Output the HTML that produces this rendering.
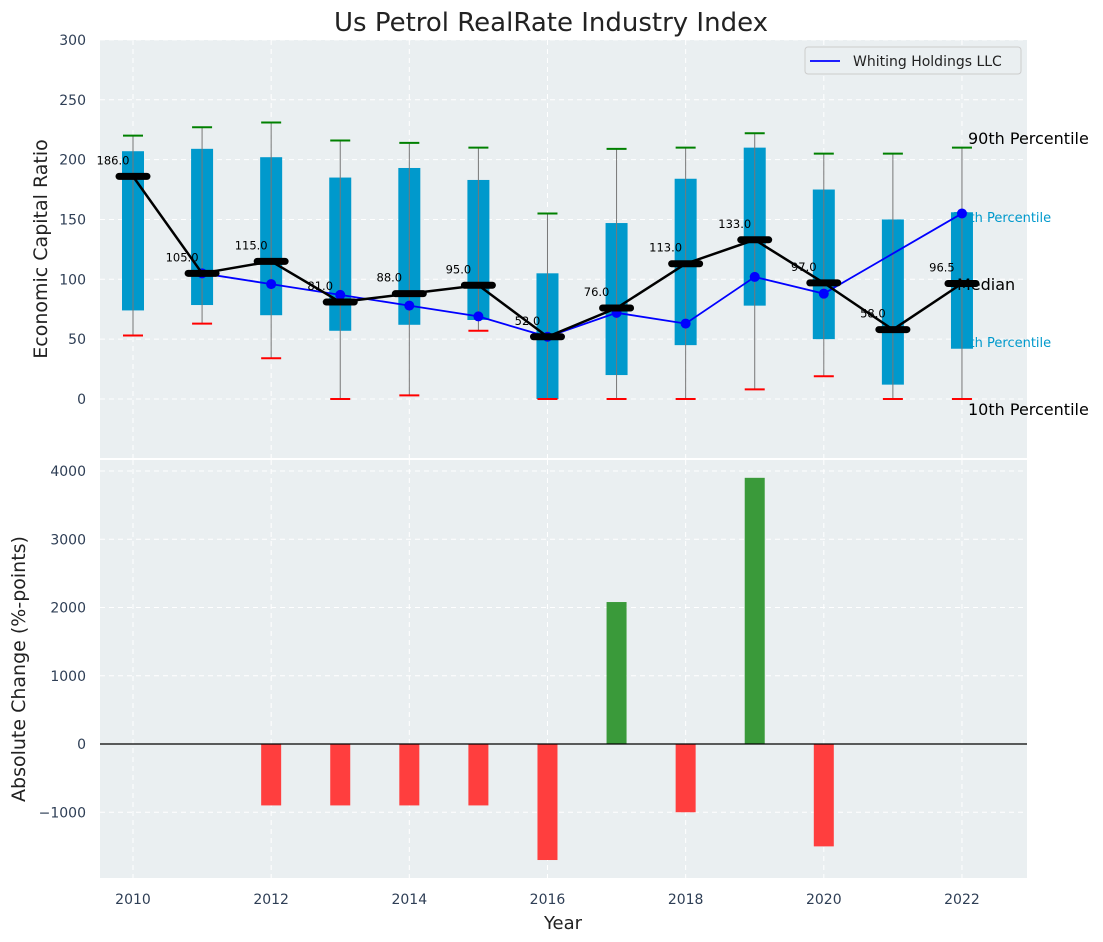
<!DOCTYPE html>
<html><head><meta charset="utf-8"><style>body{margin:0;background:#fff}svg{display:block;font-family:"DejaVu Sans","Liberation Sans",sans-serif}</style></head>
<body>
<svg id="c" width="1103" height="942"></svg>
<script>
const years=[2010,2011,2012,2013,2014,2015,2016,2017,2018,2019,2020,2021,2022];
const q75=[207,209,202,185,193,183,105,147,184,210,175,150,156];
const q25=[74,78.5,70,57,62,66,0,20,45,78,50,12,42];
const p90=[220,227,231,216,214,210,155,209,210,222,205,205,210];
const p10=[53,63,34,0,3,57,0,0,0,8,19,0,0];
const medians=[186,105,115,81,88,95,52,76,113,133,97,58,96.5];
const companyVals=[null,105,96,87,78,69,52,72,63,102,88,null,155];
const changes=[0,0,-900,-900,-900,-900,-1700,2080,-1000,3900,-1500,0,0];
const topTicks=[0,50,100,150,200,250,300];
const botTicks=[-1000,0,1000,2000,3000,4000];
const xTicks=[2010,2012,2014,2016,2018,2020,2022];

const NS='http://www.w3.org/2000/svg',svg=document.getElementById('c');
function mk(t,a,p){const e=document.createElementNS(NS,t);for(const k in a)e.setAttribute(k,a[k]);(p||svg).appendChild(e);return e;}
const X=y=>133+(y-2010)*69.08;
const Y1=v=>399-v*1.197;
const Y2=v=>744-v*0.06825;
const L=100,R=1027;
let a=mk('rect',{x:L,y:40,width:R-L,height:418,fill:'#eaeff1'});

a=mk('rect',{x:L,y:460,width:R-L,height:418,fill:'#eaeff1'});

const tc='#2e3e55';
topTicks.forEach(v=>{mk('line',{x1:L,x2:R,y1:Y1(v),y2:Y1(v),stroke:'#fff','stroke-dasharray':'5,4'});
 const t=mk('text',{x:86,y:Y1(v)+5,'text-anchor':'end','font-size':14,fill:tc});t.textContent=v;
 });
botTicks.forEach(v=>{mk('line',{x1:L,x2:R,y1:Y2(v),y2:Y2(v),stroke:'#fff','stroke-dasharray':'5,4'});
 const t=mk('text',{x:86,y:Y2(v)+5,'text-anchor':'end','font-size':14,fill:tc});t.textContent=v<0?'−'+(-v):v;
 });
xTicks.forEach(y=>{mk('line',{x1:X(y),x2:X(y),y1:40,y2:458,stroke:'#fff','stroke-dasharray':'5,4'});
 mk('line',{x1:X(y),x2:X(y),y1:460,y2:878,stroke:'#fff','stroke-dasharray':'5,4'});
 const t=mk('text',{x:X(y),y:904,'text-anchor':'middle','font-size':14,fill:tc});t.textContent=y;
 });
let t=mk('text',{x:953,y:222,'font-size':13,fill:'#0099cc'});t.textContent='75th Percentile';

t=mk('text',{x:953,y:347,'font-size':13,fill:'#0099cc'});t.textContent='25th Percentile';

years.forEach((y,i)=>{const x=X(y);
 let b=mk('rect',{x:x-11,y:Y1(q75[i]),width:22,height:Y1(q25[i])-Y1(q75[i]),fill:'#0099cc'});
 
 let w=mk('line',{x1:x,x2:x,y1:Y1(p90[i]),y2:Y1(p10[i]),stroke:'#777','stroke-width':1});
 
 let g=mk('line',{x1:x-10,x2:x+10,y1:Y1(p90[i]),y2:Y1(p90[i]),stroke:'green','stroke-width':2});
 
 let r=mk('line',{x1:x-10,x2:x+10,y1:Y1(p10[i]),y2:Y1(p10[i]),stroke:'red','stroke-width':2});
 
});
let cur=[];
years.forEach((y,i)=>{if(companyVals[i]!=null)cur.push(X(y)+','+Y1(companyVals[i]));});
let pl=mk('polyline',{points:cur.join(' '),fill:'none',stroke:'blue','stroke-width':1.8});

years.forEach((y,i)=>{if(companyVals[i]!=null){let c=mk('circle',{cx:X(y),cy:Y1(companyVals[i]),r:5,fill:'blue'});
 }});
let mp=mk('polyline',{points:years.map((y,i)=>X(y)+','+Y1(medians[i])).join(' '),fill:'none',stroke:'#000','stroke-width':2.5});

years.forEach((y,i)=>{const x=X(y),yy=Y1(medians[i]);
 let m=mk('line',{x1:x-14,x2:x+14,y1:yy,y2:yy,stroke:'#000','stroke-width':7,'stroke-linecap':'round'});
 
 let l=mk('text',{x:x-20,y:yy-12,'text-anchor':'middle','font-size':11.5,fill:'#000'});l.textContent=medians[i].toFixed(1);
 });
[['90th Percentile',968,144,'p90-label'],['Median',957,290,'median-label-right'],['10th Percentile',968,415,'p10-label']].forEach(d=>{
 let e=mk('text',{x:d[1],y:d[2],'font-size':16,fill:'#000'});e.textContent=d[0];
 });
years.forEach((y,i)=>{const v=changes[i];if(!v)return;
 let b=mk('rect',{x:X(y)-10,y:Math.min(Y2(v),Y2(0)),width:20,height:Math.abs(Y2(v)-Y2(0)),fill:v>0?'#3a9a3a':'#ff3e3e'});
 });
mk('line',{x1:L,x2:R,y1:Y2(0),y2:Y2(0),stroke:'#000','stroke-width':1.2});
let lg=mk('g',{});
mk('rect',{x:805,y:47,width:216,height:27,rx:3,fill:'#eaeff1',stroke:'#ccc'},lg);
mk('line',{x1:810,x2:840,y1:61,y2:61,stroke:'blue','stroke-width':1.8},lg);
let lt=mk('text',{x:853,y:66,'font-size':14,fill:'#222'},lg);lt.textContent='Whiting Holdings LLC';
t=mk('text',{x:551,y:31,'text-anchor':'middle','font-size':26,fill:'#222'});t.textContent='Us Petrol RealRate Industry Index';

t=mk('text',{x:0,y:0,'text-anchor':'middle','font-size':19,fill:'#222',transform:'translate(47,249) rotate(-90)'});t.textContent='Economic Capital Ratio';

t=mk('text',{x:0,y:0,'text-anchor':'middle','font-size':19,fill:'#222',transform:'translate(25,669) rotate(-90)'});t.textContent='Absolute Change (%-points)';

t=mk('text',{x:563,y:929,'text-anchor':'middle','font-size':18,fill:'#222'});t.textContent='Year';

</script>
</body></html>
